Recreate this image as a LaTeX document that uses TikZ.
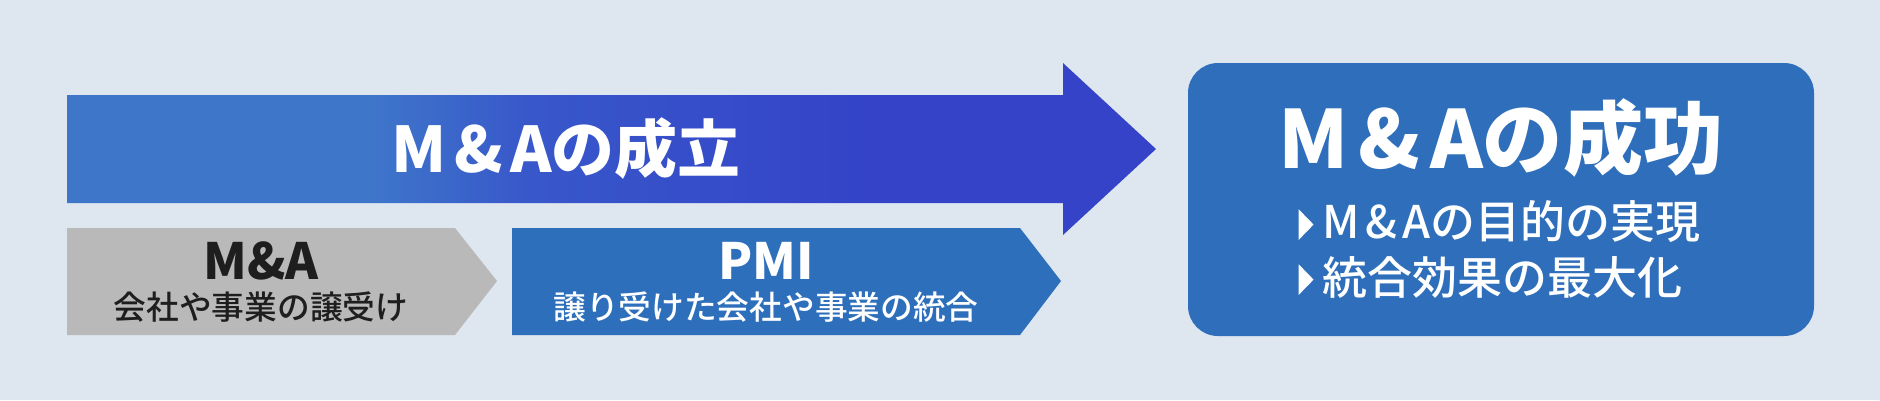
\documentclass[tikz,border=0pt]{standalone}
\usepackage{fontspec}
\setmainfont{Noto Sans CJK JP}
\newfontfamily\jpmedium{Noto Sans CJK JP Medium}
\usepackage{xcolor}
\usepackage{tikz}
\usetikzlibrary{positioning,calc}

\definecolor{bgcol}{HTML}{DEE6EF}
\definecolor{arrowA}{HTML}{3E76CA}
\definecolor{arrowM}{HTML}{3858CA}
\definecolor{arrowB}{HTML}{3443C8}
\definecolor{stepgray}{HTML}{B9B9B9}
\definecolor{stepblue}{HTML}{2E6FBC}
\definecolor{goalblue}{HTML}{2E6EBA}
\definecolor{darktext}{HTML}{1E1E1E}

\pgfdeclarehorizontalshading{arrowshade}{100bp}{color(0bp)=(arrowA); color(25bp)=(arrowA); color(39bp)=(arrowA); color(46bp)=(arrowM); color(62bp)=(arrowB); color(75bp)=(arrowB); color(100bp)=(arrowB)}

\newcommand{\tribullet}{\tikz[baseline=0pt]\fill[white] (0,-0.02em) -- (0,0.66em) -- (0.33em,0.32em) -- cycle;\hspace{0.2em}}
\newcommand{\mna}{M\hspace{0.12em}\&\hspace{0.12em}A}

\tikzset{
  headtext/.style={font=\bfseries\fontsize{14.2}{16}\selectfont, inner sep=0pt},
  subtext/.style={font=\jpmedium\fontsize{9.3}{11}\selectfont, inner sep=0pt},
  bullettext/.style={font=\jpmedium\fontsize{12.8}{15}\selectfont, text=white, anchor=west, inner sep=0pt}
}

\begin{document}
\begin{tikzpicture}[x=0.1mm,y=-0.1mm]
    % Background
    \fill[bgcol] (0,0) rectangle (1880,400);

    % Big arrow
    \shade[shading=arrowshade] (67,95) -- (1063,95) -- (1063,63) -- (1156,149)
        -- (1063,235) -- (1063,203) -- (67,203) -- cycle;
    \node [font=\bfseries\fontsize{17.9}{20}\selectfont, text=white, inner sep=0pt] (seiritsu) at (566,149) {\mna の成立};

    % Steps
    \fill[stepgray] (67,228) -- (455,228) -- (497,281) -- (455,335) -- (67,335) -- cycle;
    \fill[stepblue] (512,228) -- (1020,228) -- (1061,281) -- (1020,335) -- (512,335) -- cycle;

    % Step labels
    \node [headtext, text=darktext] (ma) at (261,261) {M\&A};
    \node [subtext, text=darktext] (yuzuriuke) at (261,307) {会社や事業の譲受け};
    \node [headtext, text=white] (pmi) at (766,261) {PMI};
    \node [subtext, text=white] (tougou) at (766,307) {譲り受けた会社や事業の統合};

    % Goal box
    \fill[goalblue, rounded corners=3mm] (1188,63) rectangle (1814,336);
    \node [font=\bfseries\fontsize{22.8}{26}\selectfont, text=white, inner sep=0pt] (seikou) at (1501,138) {\mna の成功};
    \node [bullettext] (mokuteki) at (1298,222) {\tribullet \mna の目的の実現};
    \node [bullettext] (saidaika) at (1298,277) {\tribullet 統合効果の最大化};

\end{tikzpicture}
\end{document}
